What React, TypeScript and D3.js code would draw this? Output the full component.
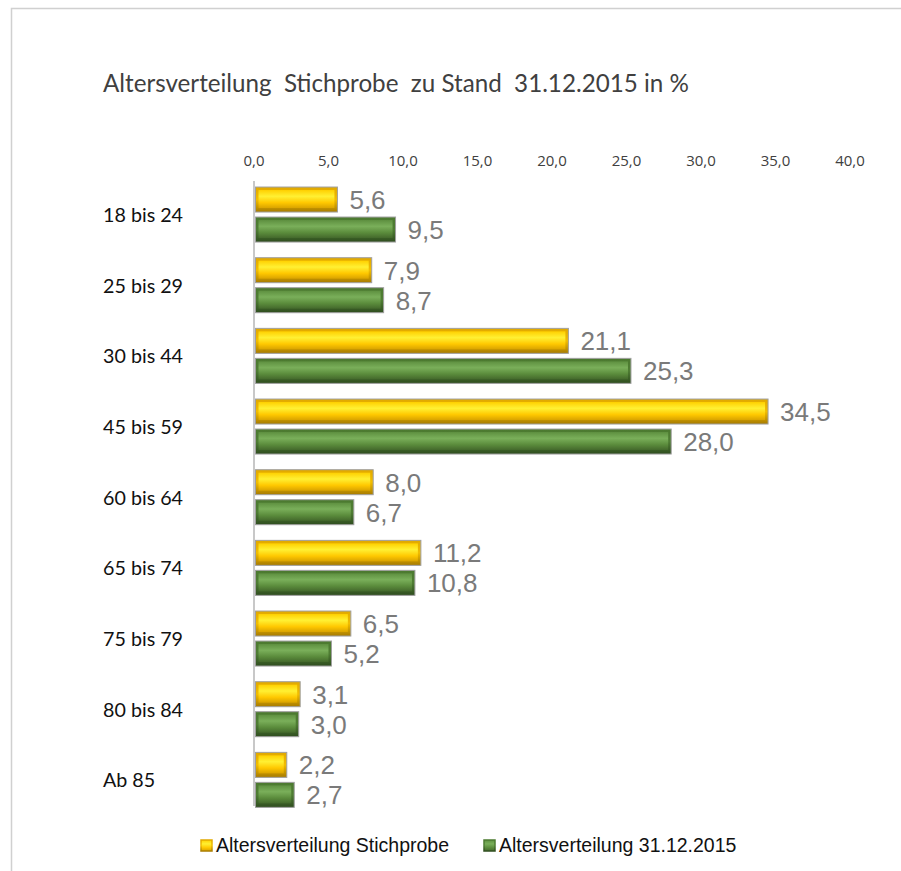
import React from "react";
import * as d3 from "d3";

const categories = ["18 bis 24", "25 bis 29", "30 bis 44", "45 bis 59", "60 bis 64", "65 bis 74", "75 bis 79", "80 bis 84", "Ab 85"];
const stichprobe = [5.6, 7.9, 21.1, 34.5, 8.0, 11.2, 6.5, 3.1, 2.2];
const stand2015 = [9.5, 8.7, 25.3, 28.0, 6.7, 10.8, 5.2, 3.0, 2.7];
const ticks = [0, 5, 10, 15, 20, 25, 30, 35, 40];
const seriesNames = ["Altersverteilung Stichprobe", "Altersverteilung 31.12.2015"];
const title = "Altersverteilung  Stichprobe  zu Stand  31.12.2015 in %";

const fmt = (v: number) => v.toFixed(1).replace(".", ",");

export default function App() {
  const x = d3.scaleLinear().domain([0, 40]).range([254, 850]);
  const y = d3.scaleBand<string>().domain(categories).range([179.2, 815.2]).padding(0);
  const barH = 25;
  const series = [
    { name: seriesNames[0], values: stichprobe, outer: "url(#yOuter)", inner: "url(#yInner)", off: -27.5, lx: 201 },
    { name: seriesNames[1], values: stand2015, outer: "url(#gOuter)", inner: "url(#gInner)", off: 2.5, lx: 484 },
  ];
  return (
    <svg width={901} height={871} style={{ position: "absolute", left: 0, top: 0, background: "#fff" }}>
      <defs>
        <linearGradient id="yOuter" x1="0" y1="0" x2="0" y2="1">
          <stop offset="0" stopColor="#e0a800" />
          <stop offset="0.5" stopColor="#f2bd00" />
          <stop offset="1" stopColor="#a77b00" />
        </linearGradient>
        <linearGradient id="yInner" x1="0" y1="0" x2="0" y2="1">
          <stop offset="0" stopColor="#ffd000" />
          <stop offset="0.35" stopColor="#fff033" />
          <stop offset="0.7" stopColor="#ffc800" />
          <stop offset="1" stopColor="#d9a300" />
        </linearGradient>
        <linearGradient id="gOuter" x1="0" y1="0" x2="0" y2="1">
          <stop offset="0" stopColor="#4c7a30" />
          <stop offset="0.5" stopColor="#4f7d33" />
          <stop offset="1" stopColor="#2f4d1f" />
        </linearGradient>
        <linearGradient id="gInner" x1="0" y1="0" x2="0" y2="1">
          <stop offset="0" stopColor="#5e9040" />
          <stop offset="0.35" stopColor="#7aaf5a" />
          <stop offset="0.7" stopColor="#5b8c3c" />
          <stop offset="1" stopColor="#44692c" />
        </linearGradient>
      </defs>
      <rect x={11.5} y={8.5} width={2000} height={2000} fill="none" stroke="#d0d0d0" strokeWidth={1.5} />
      <text x={103} y={92} fontFamily="Lato, 'Open Sans', sans-serif" fontSize={24.2} fill="#404040" style={{ whiteSpace: "pre" }}>
        {title}
      </text>
      {ticks.map((t) => (
        <text key={t} x={x(t)} y={166} textAnchor="middle" fontFamily="'Open Sans', sans-serif" fontSize={15} fill="#404040">
          {fmt(t)}
        </text>
      ))}
      <line x1={254} x2={254} y1={181} y2={806} stroke="#c8c8c8" strokeWidth={2} />
      {categories.map((c) => {
        const cy = (y(c) as number) + y.bandwidth() / 2;
        return (
          <text key={c} x={103} y={cy + 7.5} fontFamily="Lato, 'Open Sans', sans-serif" fontSize={19.7} fill="#111">
            {c}
          </text>
        );
      })}
      {series.map((s) =>
        categories.map((c, i) => {
          const cy = (y(c) as number) + y.bandwidth() / 2;
          const by = cy + s.off;
          const x0 = x(0) + 1.5;
          const w = x(s.values[i]) - x0;
          return (
            <g key={s.name + c}>
              <rect x={x0} y={by} width={w} height={barH} fill={s.outer} stroke="#a0a0a0" strokeWidth={1} />
              <rect x={x0 + 3} y={by + 3} width={Math.max(0, w - 6)} height={barH - 7} fill={s.inner} />
              <text x={x(s.values[i]) + 12} y={by + barH / 2 + 9.5} fontFamily="'Liberation Sans', Arial, sans-serif" fontSize={26} fill="#7a7a7a">
                {fmt(s.values[i])}
              </text>
            </g>
          );
        })
      )}
      {series.map((s) => (
        <g key={s.name}>
          <rect x={s.lx} y={840} width={11} height={11} fill={s.inner} stroke={s.outer} strokeWidth={1.5} />
          <text x={s.lx + 15} y={852} fontFamily="'Liberation Sans', Arial, sans-serif" fontSize={19.5} fill="#111">
            {s.name}
          </text>
        </g>
      ))}
    </svg>
  );
}
